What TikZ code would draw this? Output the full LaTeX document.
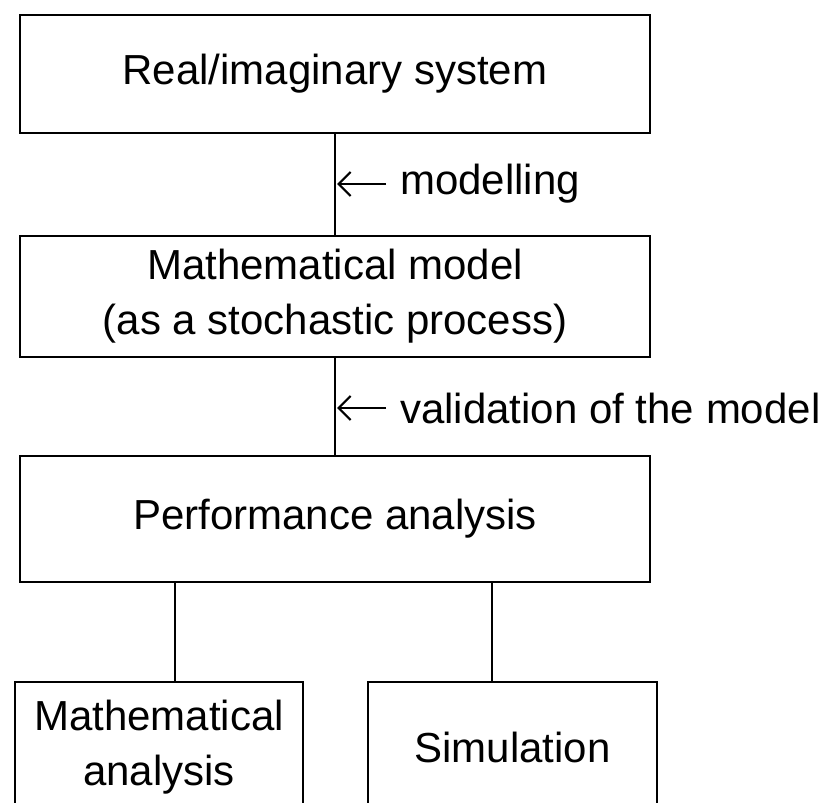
\documentclass[tikz,border=0pt]{standalone}
\usepackage{fontspec}
\setmainfont{Liberation Sans}
\usetikzlibrary{arrows.meta}
\begin{document}
\begin{tikzpicture}[x=1pt,y=-1pt,
  box/.style={draw=black, line width=2pt, rectangle, align=center, inner sep=0pt,
    font=\fontsize{42}{55}\selectfont},
  link/.style={line width=2pt},
  lbl/.style={anchor=west, inner sep=0pt, font=\fontsize{42}{55}\selectfont},
  note/.style={line width=2pt, -{Straight Barb[length=12pt,width=24pt,line width=2.2pt]}}]
\useasboundingbox (0,0) rectangle (834,802);
\clip (0,0) rectangle (834,802);
\fill[white] (0,0) rectangle (834,802);
\node[box, minimum width=630pt, minimum height=118pt] (sys) at (335,74) {Real/imaginary system};
\node[box, minimum width=630pt, minimum height=121pt] (model) at (335,296.5) {Mathematical model\\(as a stochastic process)};
\node[box, minimum width=630pt, minimum height=126pt] (perf) at (335,519) {Performance analysis};
\node[box, minimum width=288pt, minimum height=130pt] (mana) at (159,747) {Mathematical\\analysis};
\node[box, minimum width=289pt, minimum height=130pt] (sim) at (512.5,747) {Simulation};
\draw[link] (sys) -- (model);
\draw[link] (model) -- (perf);
\draw[link] (perf.south -| 175,0) -- (mana.north -| 175,0);
\draw[link] (perf.south -| 492,0) -- (sim.north -| 492,0);
\coordinate (m1) at (386,184);
\coordinate (m2) at (337,184);
\draw[note] (m1) -- (m2);
\node[lbl] (mlab) at (400,184) {modelling};
\coordinate (v1) at (386,408);
\coordinate (v2) at (337,408);
\draw[note] (v1) -- (v2);
\node[lbl] (vlab) at (400,408) {validation of the model};
\end{tikzpicture}
\end{document}
